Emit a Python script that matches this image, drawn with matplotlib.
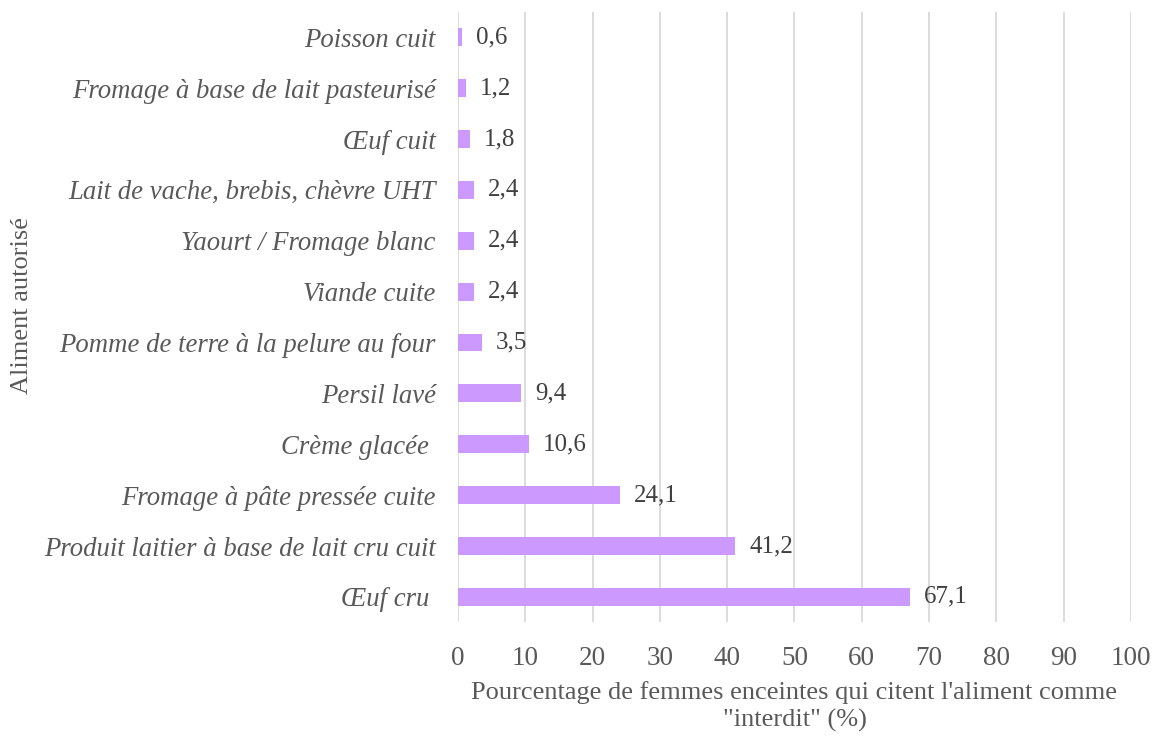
import matplotlib
matplotlib.use("Agg")
import matplotlib.pyplot as plt

categories = [
    "Œuf cru ",
    "Produit laitier à base de lait cru cuit",
    "Fromage à pâte pressée cuite",
    "Crème glacée ",
    "Persil lavé",
    "Pomme de terre à la pelure au four",
    "Viande cuite",
    "Yaourt / Fromage blanc",
    "Lait de vache, brebis, chèvre UHT",
    "Œuf cuit",
    "Fromage à base de lait pasteurisé",
    "Poisson cuit",
]
values = [67.1, 41.2, 24.1, 10.6, 9.4, 3.5, 2.4, 2.4, 2.4, 1.8, 1.2, 0.6]
xticks = list(range(0, 101, 10))

plt.rcParams['font.family'] = ['Liberation Serif', 'DejaVu Serif']
text_color = "#595959"

fig = plt.figure(figsize=(11.6, 7.4), dpi=100)
ax = fig.add_axes([0.3948, 0.159, 0.975 - 0.3948, 0.984 - 0.159])

ypos = list(range(len(categories)))
ax.barh(ypos, values, height=0.35, color="#CC99FF", zorder=3)

for y, v in zip(ypos, values):
    ax.annotate(f"{v:.1f}".replace(".", ","), xy=(v, y), xytext=(10, 0),
                textcoords="offset points", va="center", ha="left",
                fontsize=18, color="#404040")

ax.set_xlim(0, 100)
ax.set_ylim(-0.5, len(categories) - 0.5)
ax.set_xticks(xticks)
ax.set_xticklabels([str(t) for t in xticks], fontsize=19.5, color=text_color)
ax.set_yticks(ypos)
ax.set_yticklabels(categories, fontsize=19.3, style="italic", color=text_color)
ax.tick_params(axis="both", length=0)
ax.tick_params(axis="x", pad=17)
ax.tick_params(axis="y", pad=16)

ax.grid(axis="x", color="#D9D9D9", linewidth=1.3, zorder=0)
for s in ax.spines.values():
    s.set_visible(False)

ax.set_xlabel("Pourcentage de femmes enceintes qui citent l'aliment comme\n\"interdit\" (%)",
              fontsize=19, color=text_color, labelpad=7, linespacing=1.3)
fig.text(0.019, 1 - 305 / 740, "Aliment autorisé", rotation=90, va="center", ha="center",
         fontsize=19, color=text_color)

fig.savefig("out.png", dpi=100)
